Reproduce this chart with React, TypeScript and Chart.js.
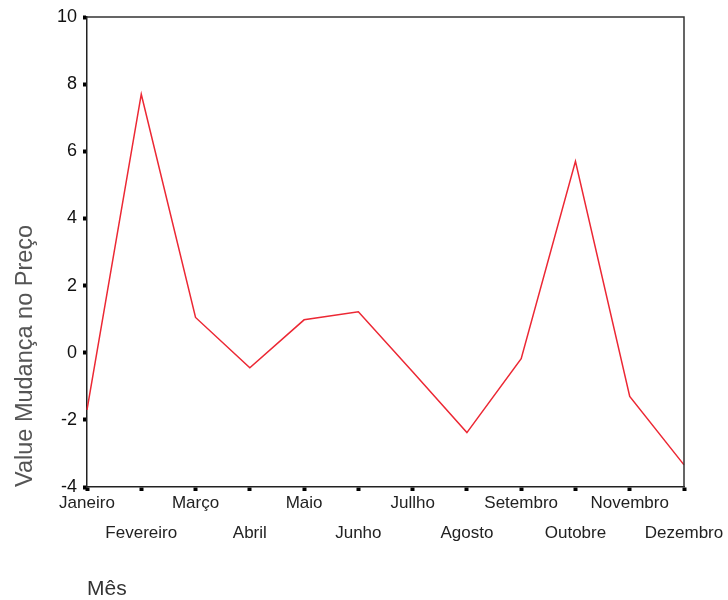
import React, { useEffect, useRef } from "react";
import { Chart, registerables } from "chart.js";

Chart.register(...registerables);

const months = [
  "Janeiro", "Fevereiro", "Março", "Abril", "Maio", "Junho",
  "Jullho", "Agosto", "Setembro", "Outobre", "Novembro", "Dezembro",
];
const priceChange = [-1.7, 7.7, 1.05, -0.45, 0.98, 1.22, -0.57, -2.38, -0.18, 5.7, -1.3, -3.34];
const yMin = -4;
const yMax = 10;
const yStep = 2;
const yTitle = "Value Mudança no Preço";
const xTitle = "Mês";

const FONT = "'Liberation Sans', Arial, sans-serif";

const boxPlugin = {
  id: "boxFrame",
  afterDraw(chart: any) {
    const { ctx, chartArea } = chart;
    ctx.save();
    ctx.strokeStyle = "#333";
    ctx.lineWidth = 1.5;
    ctx.beginPath();
    ctx.moveTo(chartArea.left, chartArea.top);
    ctx.lineTo(chartArea.right, chartArea.top);
    ctx.lineTo(chartArea.right, chartArea.bottom);
    ctx.stroke();
    ctx.restore();
  },
};

export default function App() {
  const ref = useRef<HTMLCanvasElement | null>(null);
  useEffect(() => {
    if (!ref.current) return;
    const chart = new Chart(ref.current, {
      type: "line",
      data: {
        labels: months,
        datasets: [
          {
            data: priceChange,
            borderColor: "rgb(236, 40, 52)",
            borderWidth: 1.5,
            pointRadius: 0,
            tension: 0,
            fill: false,
          },
        ],
      },
      options: {
        animation: false,
        responsive: true,
        maintainAspectRatio: false,
        layout: { padding: { top: 17, right: 44, left: 0, bottom: 0 } },
        plugins: { legend: { display: false }, tooltip: { enabled: false } },
        scales: {
          x: {
            type: "category",
            offset: false,
            afterFit(scale: any) {
              scale.height = 113;
            },
            border: { display: true, color: "#222", width: 1.5 },
            grid: {
              drawOnChartArea: false,
              drawTicks: true,
              tickLength: 4,
              tickWidth: 4,
              tickColor: "#000",
              color: "#000",
            },
            ticks: {
              autoSkip: false,
              maxRotation: 0,
              minRotation: 0,
              padding: -3,
              color: "#222",
              font: { family: FONT, size: 17, lineHeight: "30px" as any },
              callback(_v: any, i: number) {
                return i % 2 === 0 ? [months[i]] : ["", months[i]];
              },
            },
            title: {
              display: true,
              text: xTitle,
              align: "start",
              color: "#333",
              font: { family: FONT, size: 21, lineHeight: 1 },
              padding: { top: 0, bottom: 0 },
            },
          },
          y: {
            min: yMin,
            max: yMax,
            afterFit(scale: any) {
              scale.width = 87;
            },
            border: { display: true, color: "#222", width: 1.5 },
            grid: {
              drawOnChartArea: false,
              drawTicks: true,
              tickLength: 4,
              tickWidth: 4,
              tickColor: "#000",
              color: "#000",
            },
            ticks: {
              stepSize: yStep,
              padding: 6,
              color: "#111",
              font: { family: FONT, size: 18 },
            },
            title: {
              display: true,
              text: yTitle,
              align: "start",
              color: "#555",
              font: { family: FONT, size: 23.5, lineHeight: 1.2 },
              padding: { top: 11, bottom: 0 },
            },
          },
        },
      },
      plugins: [boxPlugin],
    });
    return () => chart.destroy();
  }, []);
  return (
    <div style={{ position: "absolute", left: 0, top: 0, width: 728, height: 600, background: "#fff" }}>
      <canvas ref={ref} />
    </div>
  );
}
